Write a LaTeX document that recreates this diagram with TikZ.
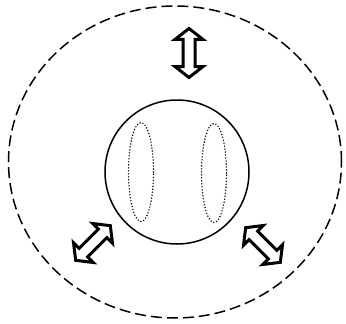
\documentclass[tikz,border=0pt]{standalone}
\usetikzlibrary{shapes.geometric,shapes.arrows}

\begin{document}
\begin{tikzpicture}[x=1pt,y=-1pt,
  flux/.style={double arrow,draw,line width=3pt,fill=white,inner xsep=0pt,inner ysep=4.5pt,
    minimum width=25pt,minimum height=49pt,double arrow head extend=8pt,
    double arrow tip angle=104},
  vacuole/.style={ellipse,draw,line width=1.6pt,line cap=round,dash pattern=on 0pt off 3pt,
    minimum width=25pt,minimum height=99pt,inner sep=0pt}]
\useasboundingbox (0,0) rectangle (346,324);

% surroundings and cell
\node[ellipse,draw,line width=1.5pt,dash pattern=on 11pt off 5pt,
  minimum width=333pt,minimum height=312pt,inner sep=0pt] (env) at (175,162) {};
\node[circle,draw,line width=1.5pt,minimum size=144pt,inner sep=0pt] (cell) at (177,172) {};

\node[vacuole] (vacL) at (141,172) {};
\node[vacuole] (vacR) at (214,173) {};

% exchange with the surroundings
\node[flux,rotate=90] (fluxT) at (189,53) {};
\node[flux,rotate=45] (fluxL) at (93,243) {};
\node[flux,rotate=-45] (fluxR) at (263,245) {};

\end{tikzpicture}
\end{document}
